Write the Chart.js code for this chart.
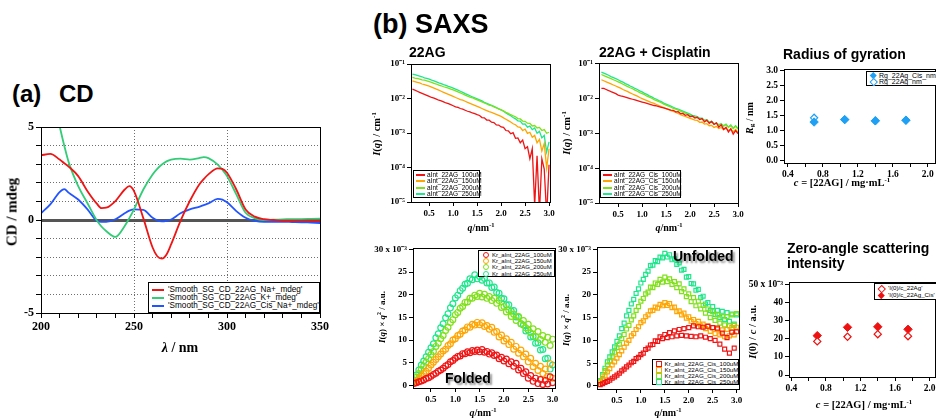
<!DOCTYPE html>
<html>
<head>
<meta charset="utf-8">
<script src="https://cdn.jsdelivr.net/npm/chart.js@4.4.0/dist/chart.umd.min.js"></script>
<style>
  body { margin: 0; width: 936px; height: 418px; overflow: hidden; background: #fff; position: relative; }
  canvas { position: absolute; }
  .t { position: absolute; white-space: nowrap; font-family: "Liberation Sans", Arial, sans-serif; font-weight: bold; line-height: 1; color: #000; }
  .ax { position: absolute; white-space: nowrap; font-family: "Liberation Serif", "Times New Roman", serif; font-weight: bold; line-height: 1; transform: translate(-50%, -50%); }
  .ax.v { transform: translate(-50%, -50%) rotate(-90deg); }
  .ax sup { font-size: 0.65em; vertical-align: 0.55em; line-height: 0; }
  .ax sub { font-size: 0.7em; vertical-align: -0.2em; line-height: 0; }
  .lg { position: absolute; border: 1px solid #000; background: #fff; font-family: "Liberation Sans", Arial, sans-serif; color: #000; box-sizing: border-box; }
  .lg .row { display: flex; align-items: center; white-space: nowrap; }
  .lg .mk { flex: none; display: flex; align-items: center; justify-content: center; }
  .shadow { text-shadow: 2px 2px 2px rgba(0, 0, 0, 0.45); }
</style>
</head>
<body>
<div id="charts"></div>

<div class="t" style="left:12px;top:82px;font-size:24px">(a)</div>
<div class="t" style="left:59px;top:82px;font-size:24px">CD</div>
<div class="t" style="left:373px;top:11px;font-size:27px">(b)</div>
<div class="t" style="left:415px;top:11px;font-size:27px">SAXS</div>
<div class="t" style="left:409px;top:45px;font-size:14px">22AG</div>
<div class="t" style="left:599px;top:45px;font-size:14px">22AG + Cisplatin</div>
<div class="t" style="left:783px;top:47px;font-size:14px">Radius of gyration</div>
<div class="t" style="left:787px;top:241px;font-size:14px;line-height:15px">Zero-angle scattering<br>intensity</div>
<div class="t shadow" style="left:445px;top:371px;font-size:14px">Folded</div>
<div class="t shadow" style="left:673px;top:249px;font-size:14px">Unfolded</div>

<div class="ax v" style="left:12px;top:212px;font-size:15px">CD / mdeg</div>
<div class="ax" style="left:180px;top:348px;font-size:14px"><i>λ</i> / nm</div>
<div class="ax v" style="left:377px;top:134px;font-size:10.5px"><i>I</i>(<i>q</i>) / cm<sup>-1</sup></div>
<div class="ax v" style="left:567px;top:133px;font-size:10.5px"><i>I</i>(<i>q</i>) / cm<sup>-1</sup></div>
<div class="ax" style="left:481px;top:228px;font-size:10px"><i>q</i>/nm<sup>-1</sup></div>
<div class="ax" style="left:669px;top:228px;font-size:10px"><i>q</i>/nm<sup>-1</sup></div>
<div class="ax v" style="left:382px;top:317px;font-size:9px"><i>I</i>(<i>q</i>) × <i>q</i><sup>2</sup> / a.u.</div>
<div class="ax v" style="left:566px;top:320px;font-size:9px"><i>I</i>(<i>q</i>) × <i>q</i><sup>2</sup> / a.u.</div>
<div class="ax" style="left:483px;top:413px;font-size:10px"><i>q</i>/nm<sup>-1</sup></div>
<div class="ax" style="left:668px;top:413px;font-size:10px"><i>q</i>/nm<sup>-1</sup></div>
<div class="ax v" style="left:750px;top:118px;font-size:10px"><i>R</i><sub>g</sub> / nm</div>
<div class="ax" style="left:842px;top:183px;font-size:10.5px"><i>c</i> = [22AG] / mg·mL<sup>-1</sup></div>
<div class="ax v" style="left:753px;top:332px;font-size:10.5px"><i>I</i>(0) / <i>c</i> / a.u.</div>
<div class="ax" style="left:864px;top:405px;font-size:10.5px"><i>c</i> = [22AG] / mg·mL<sup>-1</sup></div>

<script>
// ---- (a) CD spectra, mdeg ----
const cdWavelength = [200, 205, 210, 212.5, 215, 220, 225, 230, 232.5, 235, 240, 245, 247.5, 250, 255, 260, 262.5, 265, 267.5, 270,
    275, 280, 285, 287.5, 290, 295, 297.5, 300, 305, 310, 315, 320, 325, 330, 335, 340, 345, 350];
const cdNa = [3.48, 3.55, 3.25, 3.05, 2.86, 2.36, 1.55, 0.88, 0.64, 0.66, 1.02, 1.64, 1.82, 1.55, 0.1, -1.48, -1.95, -2.07, -1.85, -1.3,
    -0.05, 1.02, 1.9, 2.2, 2.45, 2.78, 2.75, 2.54, 1.64, 0.57, 0.18, 0.04, 0.0, -0.04, -0.04, -0.03, -0.04, -0.05];
const cdK = [9.5, 7.2, 5.05, 4.0, 3.07, 1.82, 0.9, -0.02, -0.35, -0.59, -0.91, -0.32, 0.1, 0.57, 1.64, 2.45, 2.75, 2.98, 3.15, 3.25,
    3.3, 3.25, 3.33, 3.38, 3.33, 2.98, 2.7, 2.36, 1.38, 0.39, 0.09, 0.0, 0.02, 0.03, 0.05, 0.05, 0.06, 0.07];
const cdCisNa = [0.36, 0.84, 1.5, 1.66, 1.46, 1.1, 0.57, -0.05, -0.1, -0.1, 0.04, 0.36, 0.5, 0.57, 0.54, 0.12, -0.02, -0.07, -0.04, 0.03,
    0.36, 0.57, 0.71, 0.8, 0.89, 1.14, 1.1, 0.95, 0.48, 0.12, -0.05, -0.1, -0.1, -0.1, -0.11, -0.12, -0.14, -0.16];
const cdNames = ["'Smooth_SG_CD_22AG_Na+_mdeg'", "'Smooth_SG_CD_22AG_K+_mdeg'", "'Smooth_SG_CD_22AG_Cis_Na+_mdeg'"];
const cdXTicks = [200, 210, 220, 230, 240, 250, 260, 270, 280, 290, 300, 310, 320, 330, 340, 350];
const cdXLabels = [200, 250, 300, 350];
const cdYTicks = [-5, -4, -3, -2, -1, 0, 1, 2, 3, 4, 5];
const cdYLabels = [-5, 0, 5];

// ---- (b) SAXS, q in nm^-1 ----
const q = [0.15, 0.2, 0.25, 0.3, 0.35, 0.4, 0.45, 0.5, 0.55, 0.6, 0.65, 0.7, 0.75, 0.8, 0.85, 0.9, 0.95, 1, 1.05, 1.1,
    1.15, 1.2, 1.25, 1.3, 1.35, 1.4, 1.45, 1.5, 1.55, 1.6, 1.65, 1.7, 1.75, 1.8, 1.85, 1.9, 1.95, 2, 2.05, 2.1,
    2.15, 2.2, 2.25, 2.3, 2.35, 2.4, 2.45, 2.5, 2.55, 2.6, 2.65, 2.7, 2.75, 2.8, 2.85, 2.9, 2.95, 3];

// absolute intensity I(q), cm^-1
const int22AG100 = [0.0186, 0.0174, 0.0162, 0.0151, 0.0141, 0.0132, 0.0123, 0.0115, 0.0107, 0.0102,
    0.00955, 0.00891, 0.00851, 0.00794, 0.00741, 0.00708, 0.00661, 0.00617, 0.00575, 0.0055,
    0.00513, 0.0049, 0.00457, 0.00427, 0.00407, 0.0038, 0.00363, 0.00339, 0.00322, 0.0028,
    0.00275, 0.00238, 0.00235, 0.00205, 0.002, 0.00172, 0.0017, 0.0015, 0.00145, 0.00118,
    0.00115, 0.00095, 0.00102, 0.0007, 0.00072, 0.00052, 0.00062, 0.00035, 0.0004, 0.00018,
    0.00035, 0.000008, 0.00022, 0.000005, 0.00018, 0.00009, 0.000004, 0.00012];
const int22AG150 = [0.0324, 0.0309, 0.0295, 0.0282, 0.0263, 0.0251, 0.024, 0.0229, 0.0214, 0.02,
    0.0186, 0.0174, 0.0162, 0.0151, 0.0141, 0.0132, 0.0123, 0.0115, 0.0107, 0.01,
    0.00933, 0.00891, 0.00832, 0.00776, 0.00724, 0.00676, 0.00631, 0.00589, 0.0055, 0.00513,
    0.00479, 0.00447, 0.00417, 0.00398, 0.00372, 0.00347, 0.00324, 0.00302, 0.00275, 0.00251,
    0.00229, 0.00209, 0.00185, 0.00174, 0.0015, 0.00145, 0.00118, 0.0013, 0.00098, 0.00105,
    0.00075, 0.00085, 0.00052, 0.00065, 0.0003, 0.0005, 0.000095, 0.00035];
const int22AG200 = [0.0407, 0.0389, 0.038, 0.0363, 0.0347, 0.0339, 0.0324, 0.0309, 0.0295, 0.0275,
    0.0263, 0.0245, 0.0234, 0.0219, 0.0209, 0.02, 0.0186, 0.0178, 0.0166, 0.0155,
    0.0145, 0.0135, 0.0126, 0.0117, 0.011, 0.0105, 0.00977, 0.00912, 0.00851, 0.00794,
    0.00741, 0.00692, 0.00646, 0.00617, 0.00575, 0.00537, 0.00501, 0.00468, 0.00437, 0.00398,
    0.00372, 0.00339, 0.00316, 0.00295, 0.00262, 0.00255, 0.00222, 0.00218, 0.00192, 0.0019,
    0.0016, 0.00165, 0.0014, 0.00145, 0.00118, 0.00125, 0.00098, 0.00105];
const int22AG250 = [0.0513, 0.049, 0.0468, 0.0447, 0.0427, 0.0398, 0.038, 0.0363, 0.0339, 0.0324,
    0.0302, 0.0282, 0.0269, 0.0251, 0.024, 0.0224, 0.0214, 0.02, 0.0186, 0.0174,
    0.0162, 0.0151, 0.0138, 0.0129, 0.012, 0.0112, 0.0105, 0.00977, 0.00912, 0.00851,
    0.00776, 0.00724, 0.00676, 0.00631, 0.00589, 0.0055, 0.00501, 0.00468, 0.00427, 0.0038,
    0.00347, 0.00316, 0.00282, 0.00257, 0.00225, 0.00222, 0.0018, 0.00182, 0.00148, 0.00158,
    0.00125, 0.0014, 0.00098, 0.00112, 0.00072, 0.00085, 0.00028, 0.00055];
const intCis100 = [0.0195, 0.0195, 0.0182, 0.017, 0.0158, 0.0148, 0.0138, 0.0126, 0.012, 0.0115,
    0.011, 0.0105, 0.01, 0.00955, 0.00912, 0.00871, 0.00832, 0.00794, 0.00759, 0.00724,
    0.00692, 0.00661, 0.00631, 0.00617, 0.00589, 0.00562, 0.00537, 0.00513, 0.0049, 0.00468,
    0.0046, 0.00415, 0.0042, 0.0037, 0.00375, 0.0033, 0.00345, 0.003, 0.00315, 0.00275,
    0.0029, 0.0025, 0.00265, 0.00215, 0.0024, 0.00195, 0.0022, 0.0018, 0.002, 0.0015,
    0.00175, 0.0013, 0.0015, 0.0011, 0.00135, 0.00095, 0.0012, 0.00098];
const intCis150 = [0.0347, 0.0324, 0.0302, 0.0282, 0.0263, 0.0245, 0.0229, 0.0214, 0.02, 0.0182,
    0.017, 0.0158, 0.0145, 0.0135, 0.0126, 0.0117, 0.0107, 0.01, 0.00933, 0.00871,
    0.00813, 0.00759, 0.00724, 0.00676, 0.00631, 0.00589, 0.0055, 0.00513, 0.00479, 0.00447,
    0.00427, 0.00398, 0.00372, 0.00347, 0.00324, 0.00309, 0.00288, 0.00269, 0.00257, 0.0024,
    0.00235, 0.00208, 0.00212, 0.00185, 0.0019, 0.00166, 0.0017, 0.00148, 0.00158, 0.00138,
    0.00148, 0.00128, 0.0014, 0.0012, 0.00135, 0.0011, 0.0013, 0.00108];
const intCis200 = [0.049, 0.0457, 0.0427, 0.0398, 0.0372, 0.0347, 0.0324, 0.0302, 0.0282, 0.0257,
    0.024, 0.0219, 0.0204, 0.0191, 0.0174, 0.0162, 0.0148, 0.0138, 0.0129, 0.0117,
    0.011, 0.0102, 0.00933, 0.00871, 0.00813, 0.00759, 0.00692, 0.00646, 0.00603, 0.00562,
    0.00525, 0.00501, 0.00468, 0.00437, 0.00407, 0.0038, 0.00355, 0.00331, 0.00316, 0.00295,
    0.0029, 0.00262, 0.0026, 0.00232, 0.00238, 0.00205, 0.00215, 0.00185, 0.00198, 0.00172,
    0.00185, 0.0016, 0.00178, 0.00148, 0.00168, 0.00138, 0.0016, 0.00132];
const intCis250 = [0.0575, 0.0537, 0.0501, 0.0468, 0.0427, 0.0398, 0.0372, 0.0347, 0.0316, 0.0295,
    0.0269, 0.0251, 0.0229, 0.0214, 0.0195, 0.0182, 0.0166, 0.0155, 0.0141, 0.0132,
    0.012, 0.0112, 0.0102, 0.00955, 0.00871, 0.00813, 0.00741, 0.00692, 0.00646, 0.00603,
    0.00562, 0.00525, 0.00501, 0.00468, 0.00437, 0.00407, 0.0038, 0.00355, 0.00331, 0.00316,
    0.00305, 0.00272, 0.00275, 0.00238, 0.00248, 0.0021, 0.00222, 0.00185, 0.002, 0.00178,
    0.0019, 0.00165, 0.00185, 0.00152, 0.00175, 0.0014, 0.00165, 0.00138];

// Kratky I(q)*q^2, units of 1e-3
const kr22AG100 = [0.4, 0.6, 0.8, 1.0, 1.2, 1.5, 1.7, 2.0, 2.4, 2.7, 3.1, 3.4, 3.8, 4.3, 4.6, 5.2, 5.5, 6.0, 6.4, 6.5,
    7.0, 7.0, 7.4, 7.2, 7.7, 7.5, 7.8, 7.4, 7.9, 7.3, 7.5, 6.9, 7.2, 6.6, 6.7, 5.9, 6.2, 5.4, 5.8, 4.8,
    5.2, 4.2, 4.9, 3.4, 3.8, 2.6, 3.0, 1.6, 2.2, 0.9, 1.6, 0.4, 1.3, 0.2, 1.1, 0.3, 1.9, 0.6];
const kr22AG150 = [0.6, 1.0, 1.5, 2.0, 2.6, 3.1, 3.8, 4.5, 5.1, 5.7, 6.3, 6.9, 7.6, 8.0, 8.8, 9.2, 10.0, 10.3, 11.0, 11.3,
    12.0, 12.2, 12.9, 12.8, 13.5, 13.3, 13.9, 13.4, 13.8, 13.0, 13.2, 12.4, 12.8, 11.7, 11.9, 10.7, 11.1, 9.8, 10.3, 9.0,
    9.5, 8.0, 8.6, 7.1, 7.8, 6.3, 6.9, 5.2, 6.0, 4.1, 4.9, 3.3, 4.2, 2.6, 3.6, 2.0, 4.8, 1.6];
const kr22AG200 = [1.0, 1.8, 2.6, 3.5, 4.3, 5.1, 5.9, 6.8, 7.5, 8.6, 9.3, 10.3, 11.0, 12.1, 12.8, 13.9, 14.5, 15.6, 16.1, 17.0,
    17.4, 18.3, 18.4, 19.2, 19.2, 19.9, 19.6, 20.3, 19.5, 20.1, 19.2, 19.6, 18.7, 19.2, 18.1, 18.7, 17.2, 17.4, 16.2, 16.6,
    15.2, 15.7, 14.3, 15.2, 13.6, 14.3, 12.7, 13.5, 11.6, 12.5, 10.8, 11.9, 10.1, 11.0, 9.5, 10.6, 8.8, 10.2];
const kr22AG250 = [1.2, 2.3, 3.4, 4.5, 5.4, 6.3, 7.3, 8.3, 9.2, 10.5, 11.4, 12.7, 13.6, 14.9, 15.8, 17.1, 18.0, 19.3, 19.9, 20.9,
    21.4, 22.3, 22.5, 23.5, 23.3, 24.4, 23.5, 24.0, 23.2, 23.6, 22.6, 22.6, 21.6, 21.7, 20.5, 20.3, 19.2, 19.1, 17.8, 17.8,
    16.4, 16.5, 15.1, 15.1, 13.6, 13.3, 12.0, 12.2, 10.7, 10.8, 9.3, 9.4, 7.8, 7.9, 5.9, 6.0, 3.6, 4.5];
const krCis100 = [0.3, 0.5, 0.8, 1.0, 1.3, 1.7, 2.0, 2.4, 2.8, 3.3, 3.7, 4.2, 4.6, 5.1, 5.4, 6.0, 6.3, 6.9, 7.2, 8.0,
    8.3, 9.0, 9.1, 9.9, 9.8, 10.8, 10.4, 11.3, 10.6, 11.7, 10.8, 12.1, 11.0, 12.4, 11.1, 12.6, 11.0, 12.8, 10.9, 13.2,
    10.8, 13.0, 11.0, 12.9, 10.7, 13.1, 10.4, 12.8, 10.0, 12.7, 9.2, 11.6, 8.1, 10.6, 7.2, 11.8, 8.3, 11.9];
const krCis150 = [0.7, 1.4, 2.2, 3.1, 3.8, 4.6, 5.3, 6.1, 6.9, 7.7, 8.5, 9.4, 10.0, 11.0, 11.5, 12.4, 13.0, 13.9, 14.3, 15.2,
    15.6, 16.5, 16.6, 17.3, 17.1, 17.9, 17.6, 18.3, 17.7, 18.1, 17.2, 17.3, 16.3, 16.5, 15.6, 16.0, 14.9, 15.2, 14.2, 14.6,
    13.7, 14.2, 13.2, 13.6, 12.6, 13.2, 12.0, 12.8, 11.5, 12.4, 11.2, 12.3, 10.8, 12.4, 11.0, 12.8, 11.2, 12.9];
const krCis200 = [1.0, 2.2, 3.4, 4.6, 5.5, 6.4, 7.4, 8.4, 9.2, 10.4, 11.3, 12.5, 13.3, 14.5, 15.4, 16.6, 17.4, 18.6, 19.2, 20.2,
    20.6, 21.7, 21.6, 22.6, 22.3, 23.4, 22.8, 23.9, 22.9, 23.5, 22.3, 22.9, 21.6, 22.4, 20.7, 21.3, 19.6, 20.2, 18.5, 19.4,
    17.6, 18.6, 16.9, 17.7, 16.0, 16.9, 15.0, 16.3, 14.4, 15.6, 13.8, 15.3, 13.4, 15.2, 13.2, 15.6, 13.3, 15.9];
const krCis250 = [1.2, 2.5, 3.9, 5.3, 6.4, 7.5, 8.6, 9.8, 11.0, 12.6, 13.8, 15.4, 16.6, 18.0, 19.0, 20.3, 21.3, 22.6, 23.4, 24.5,
    25.2, 26.4, 26.5, 27.5, 27.3, 28.3, 28.1, 29.1, 28.3, 28.8, 27.7, 27.9, 26.7, 27.0, 25.4, 25.6, 23.9, 24.0, 22.5, 22.4,
    21.0, 21.2, 19.4, 19.7, 18.0, 18.3, 16.6, 17.4, 15.7, 16.6, 15.0, 16.4, 14.6, 16.1, 14.2, 15.8, 13.6, 15.6];

const intNames = ['aInt_22AG_100uM', 'aInt_22AG_150uM', 'aInt_22AG_200uM', 'aInt_22AG_250uM'];
const intCisNames = ['aInt_22AG_Cis_100uM', 'aInt_22AG_Cis_150uM', 'aInt_22AG_Cis_200uM', 'aInt_22AG_Cis_250uM'];
const krNames = ['Kr_aInt_22AG_100uM', 'Kr_aInt_22AG_150uM', 'Kr_aInt_22AG_200uM', 'Kr_aInt_22AG_250uM'];
const krCisNames = ['Kr_aInt_22AG_Cis_100uM', 'Kr_aInt_22AG_Cis_150uM', 'Kr_aInt_22AG_Cis_200uM', 'Kr_aInt_22AG_Cis_250uM'];

const qTicks = [0.5, 1.0, 1.5, 2.0, 2.5, 3.0];
const logTicks = [1e-5, 1e-4, 1e-3, 1e-2, 1e-1];
const krTicks = [0, 5, 10, 15, 20, 25, 30];

// ---- Rg and I(0)/c against concentration, mg/mL ----
const conc = [0.7, 1.05, 1.4, 1.75];
const rgCis = [1.29, 1.37, 1.33, 1.35];
const rg22Ag = [1.43, 1.37, 1.33, 1.35];
const rgNames = ['Rg_22Ag_Cis_nm', 'Rg_22Ag_nm'];
const i0c22Ag = [18.6, 21.2, 22.6, 21.5];
const i0cCis = [21.8, 26.4, 26.7, 25.3];
const i0Names = ["'I(0)/c_22Ag'", "'I(0)/c_22Ag_Cis'"];
const concTicks = [0.4, 0.6, 0.8, 1.0, 1.2, 1.4, 1.6, 1.8, 2.0];
const concLabels = [0.4, 0.8, 1.2, 1.6, 2.0];
const rgTicks = [0, 0.5, 1.0, 1.5, 2.0, 2.5, 3.0];
const i0Ticks = [0, 10, 20, 30, 40, 50];

const cdColors = ['#ee1515', '#33cc77', '#2255ff'];
const saxsColors = ['#f01414', '#ffa500', '#80e01a', '#1ee68c'];
const rgColor = '#1ea0f5';
const i0Color = '#ee1111';

const SERIF = '"Liberation Serif", "Times New Roman", serif';
const SUP = { '-': '⁻', '0': '⁰', '1': '¹', '2': '²', '3': '³', '4': '⁴', '5': '⁵' };
function sup(s) { return String(s).split('').map(ch => SUP[ch]).join(''); }
function near(list, v) { return list.some(l => Math.abs(l - v) < 1e-6); }

// box around the plot area, Igor style
const frame = {
    id: 'frame',
    afterDraw(chart) {
        const a = chart.chartArea, c = chart.ctx;
        c.save();
        c.strokeStyle = '#000';
        c.lineWidth = 1;
        c.strokeRect(Math.round(a.left) + 0.5, Math.round(a.top) + 0.5, Math.round(a.right - a.left), Math.round(a.bottom - a.top));
        c.restore();
    }
};

function axis(o) {
    return {
        type: o.type || 'linear',
        min: o.min, max: o.max,
        afterBuildTicks: s => { s.ticks = o.ticks.map(v => ({ value: v })); },
        afterFit: s => {
            if (o.vertical) s.width = o.size; else s.height = o.size;
            s.paddingLeft = s.paddingRight = s.paddingTop = s.paddingBottom = 0;
        },
        ticks: {
            autoSkip: false, maxRotation: 0, minRotation: 0, padding: 2, color: '#000',
            font: { family: SERIF, weight: 'bold', size: o.font },
            callback: v => o.fmt(v)
        },
        grid: Object.assign({ drawOnChartArea: false, tickLength: o.tickLen || 4, tickColor: '#000', tickWidth: 1 }, o.grid || {}),
        border: Object.assign({ display: false }, o.border || {})
    };
}

function makeChart(id, box, area, type, datasets, xAxis, yAxis) {
    const cv = document.createElement('canvas');
    cv.id = id;
    cv.width = box.w; cv.height = box.h;
    cv.style.left = box.l + 'px'; cv.style.top = box.t + 'px';
    document.getElementById('charts').appendChild(cv);
    xAxis.size = box.t + box.h - area.b;
    yAxis.size = area.l - box.l;
    yAxis.vertical = true;
    return new Chart(cv.getContext('2d'), {
        type: type,
        data: { datasets: datasets },
        options: {
            responsive: false, animation: false, events: [],
            layout: { padding: { top: area.t - box.t, right: box.l + box.w - area.r, left: 0, bottom: 0 } },
            plugins: { legend: { display: false }, tooltip: { enabled: false } },
            scales: { x: axis(xAxis), y: axis(yAxis) }
        },
        plugins: [frame]
    });
}

function lineSet(label, xs, ys, color, width, smooth) {
    return {
        label: label,
        data: xs.map((x, i) => ({ x: x, y: ys[i] })),
        borderColor: color, backgroundColor: color, borderWidth: width,
        pointRadius: 0, clip: 0,
        cubicInterpolationMode: smooth ? 'monotone' : 'default', tension: 0
    };
}

function markerSet(label, xs, ys, color, style, radius, filled) {
    return {
        label: label,
        data: xs.map((x, i) => ({ x: x, y: ys[i] })),
        showLine: false, clip: 0,
        pointStyle: style, pointRadius: radius, pointBorderWidth: filled ? 1 : 1.2,
        borderColor: color, pointBorderColor: color,
        backgroundColor: filled ? color : 'rgba(255,255,255,0)',
        pointBackgroundColor: filled ? color : (style === 'rectRot' ? '#fff' : 'rgba(255,255,255,0)')
    };
}

// ---- (a) CD ----
const gridGrey = '#6e6e6e';
makeChart('cd', { l: 0, t: 110, w: 330, h: 250 }, { l: 41, t: 127, r: 320, b: 313 }, 'line',
    [cdNa, cdK, cdCisNa].map((ys, i) => lineSet(cdNames[i], cdWavelength, ys, cdColors[i], 1.8, true)),
    {
        min: 200, max: 350, ticks: cdXTicks, font: 12, tickLen: 5,
        fmt: v => near(cdXLabels, v) ? String(v) : '',
        grid: { drawOnChartArea: true, color: c => (c.tick && c.tick.value % 50 === 0) ? gridGrey : 'rgba(0,0,0,0)' },
        border: { dash: [1, 2] }
    },
    {
        min: -5, max: 5, ticks: cdYTicks, font: 12, tickLen: 5,
        fmt: v => near(cdYLabels, v) ? String(v) : '',
        grid: {
            drawOnChartArea: true,
            color: c => (c.tick && c.tick.value === 0) ? '#555' : gridGrey,
            lineWidth: c => (c.tick && c.tick.value === 0) ? 3 : 1
        },
        border: { dash: c => (c.tick && c.tick.value === 0) ? [] : [1, 2] }
    });

// ---- (b) SAXS log plots ----
const logFmt = v => '10' + sup(Math.round(Math.log10(v)));
const qFmt = v => v.toFixed(1);

makeChart('saxs1', { l: 360, t: 50, w: 200, h: 175 }, { l: 411, t: 64, r: 550, b: 202 }, 'line',
    [int22AG100, int22AG150, int22AG200, int22AG250].map((ys, i) => lineSet(intNames[i], q, ys, saxsColors[i], 1.3, false)),
    { min: 0.12, max: 3.02, ticks: qTicks, font: 9, fmt: qFmt },
    { type: 'logarithmic', min: 1e-5, max: 1e-1, ticks: logTicks, font: 9, fmt: logFmt });

makeChart('saxs2', { l: 550, t: 50, w: 198, h: 175 }, { l: 599, t: 63, r: 738, b: 203 }, 'line',
    [intCis100, intCis150, intCis200, intCis250].map((ys, i) => lineSet(intCisNames[i], q, ys, saxsColors[i], 1.3, false)),
    { min: 0.1, max: 3.0, ticks: qTicks, font: 9, fmt: qFmt },
    { type: 'logarithmic', min: 1e-5, max: 1.05e-1, ticks: logTicks, font: 9, fmt: logFmt });

// ---- (b) Kratky plots ----
const krFmt = v => v === 30 ? '30 x 10' + sup(-3) : String(v);

makeChart('kr1', { l: 360, t: 235, w: 205, h: 170 }, { l: 413, t: 248, r: 555, b: 388 }, 'scatter',
    [kr22AG100, kr22AG150, kr22AG200, kr22AG250].map((ys, i) => markerSet(krNames[i], q, ys, saxsColors[i], 'circle', 2.9, false)),
    { min: 0.13, max: 3.05, ticks: qTicks, font: 9, fmt: qFmt },
    { min: -0.57, max: 30.3, ticks: krTicks, font: 9, fmt: krFmt });

makeChart('kr2', { l: 550, t: 235, w: 199, h: 170 }, { l: 597, t: 247, r: 739, b: 389 }, 'scatter',
    [krCis100, krCis150, krCis200, krCis250].map((ys, i) => markerSet(krCisNames[i], q, ys, saxsColors[i], 'rect', 2.8, false)),
    { min: 0.083, max: 3.05, ticks: qTicks, font: 9, fmt: qFmt },
    { min: -0.66, max: 30.5, ticks: krTicks, font: 9, fmt: krFmt });

// ---- Rg and I(0)/c ----
const concFmt = v => near(concLabels, v) ? v.toFixed(1) : '';

makeChart('rg', { l: 740, t: 55, w: 200, h: 125 }, { l: 784, t: 69, r: 940, b: 163 }, 'scatter',
    [markerSet(rgNames[0], conc, rgCis, rgColor, 'rectRot', 4.2, true),
     markerSet(rgNames[1], conc, rg22Ag, rgColor, 'rectRot', 3.6, false)],
    { min: 0.356, max: 2.08, ticks: concTicks, font: 9.5, fmt: concFmt },
    { min: -0.07, max: 3.05, ticks: rgTicks, font: 9.5, fmt: v => v.toFixed(1) });

makeChart('i0', { l: 740, t: 270, w: 200, h: 125 }, { l: 789, t: 282, r: 940, b: 377 }, 'scatter',
    [markerSet(i0Names[0], conc, i0c22Ag, i0Color, 'rectRot', 3.6, false),
     markerSet(i0Names[1], conc, i0cCis, i0Color, 'rectRot', 4.2, true)],
    { min: 0.373, max: 2.06, ticks: concTicks, font: 9.5, fmt: concFmt },
    { min: -1.1, max: 51.5, ticks: i0Ticks, font: 9.5, fmt: v => v === 50 ? '50 x 10' + sup(-3) : String(v) });

// ---- legends (html, Igor style boxes) ----
function marker(kind, color, w) {
    const m = document.createElement('span');
    m.style.display = 'inline-block';
    if (kind === 'line') {
        m.style.width = w + 'px'; m.style.height = '2px'; m.style.background = color;
    } else if (kind === 'circle' || kind === 'square') {
        m.style.width = '4px'; m.style.height = '4px'; m.style.border = '1px solid ' + color;
        if (kind === 'circle') m.style.borderRadius = '50%';
    } else if (kind === 'diamond') {
        m.style.width = '4.5px'; m.style.height = '4.5px'; m.style.background = color; m.style.transform = 'rotate(45deg)';
    } else {
        m.style.width = '3.5px'; m.style.height = '3.5px'; m.style.border = '1.2px solid ' + color;
        m.style.background = '#fff'; m.style.transform = 'rotate(45deg)';
    }
    return m;
}

function legend(pos, names, colors, kinds, st) {
    const d = document.createElement('div');
    d.className = 'lg';
    Object.assign(d.style, {
        left: pos.l + 'px', top: pos.t + 'px', width: pos.w + 'px', height: pos.h + 'px',
        paddingTop: st.padT + 'px', paddingLeft: st.padL + 'px', fontSize: st.font + 'px'
    });
    names.forEach((n, i) => {
        const row = document.createElement('div');
        row.className = 'row';
        row.style.height = st.rowH + 'px';
        row.style.lineHeight = st.rowH + 'px';
        const mk = document.createElement('span');
        mk.className = 'mk';
        mk.style.width = st.mkW + 'px';
        mk.style.marginRight = st.gap + 'px';
        mk.appendChild(marker(kinds[i], colors[i], st.mkW));
        const tx = document.createElement('span');
        tx.textContent = n;
        row.appendChild(mk);
        row.appendChild(tx);
        d.appendChild(row);
    });
    document.body.appendChild(d);
}

const lines3 = ['line', 'line', 'line'];
const lines4 = ['line', 'line', 'line', 'line'];
legend({ l: 148, t: 282, w: 172, h: 31 }, cdNames, cdColors, lines3, { font: 8.2, rowH: 8, padT: 2.5, padL: 3, mkW: 12, gap: 4 });
legend({ l: 413, t: 170, w: 67, h: 28 }, intNames, saxsColors, lines4, { font: 6.5, rowH: 6.5, padT: 0.5, padL: 2, mkW: 9, gap: 2 });
legend({ l: 600, t: 170, w: 81, h: 28 }, intCisNames, saxsColors, lines4, { font: 6.5, rowH: 6.5, padT: 0.5, padL: 2, mkW: 9, gap: 2 });
legend({ l: 478, t: 250, w: 77, h: 27 }, krNames, saxsColors, ['circle', 'circle', 'circle', 'circle'], { font: 6, rowH: 6.4, padT: 0.5, padL: 3, mkW: 8, gap: 2 });
legend({ l: 652, t: 359, w: 87, h: 26 }, krCisNames, saxsColors, ['square', 'square', 'square', 'square'], { font: 6.2, rowH: 6.2, padT: 0.5, padL: 2, mkW: 8, gap: 1.5 });
legend({ l: 866, t: 71, w: 80, h: 15 }, rgNames, [rgColor, rgColor], ['diamond', 'odiamond'], { font: 7, rowH: 6, padT: 0.5, padL: 3, mkW: 7, gap: 2 });
legend({ l: 874, t: 283, w: 75, h: 17 }, i0Names, [i0Color, i0Color], ['odiamond', 'diamond'], { font: 6.2, rowH: 6.8, padT: 1, padL: 3, mkW: 7, gap: 3 });
</script>
</body>
</html>
